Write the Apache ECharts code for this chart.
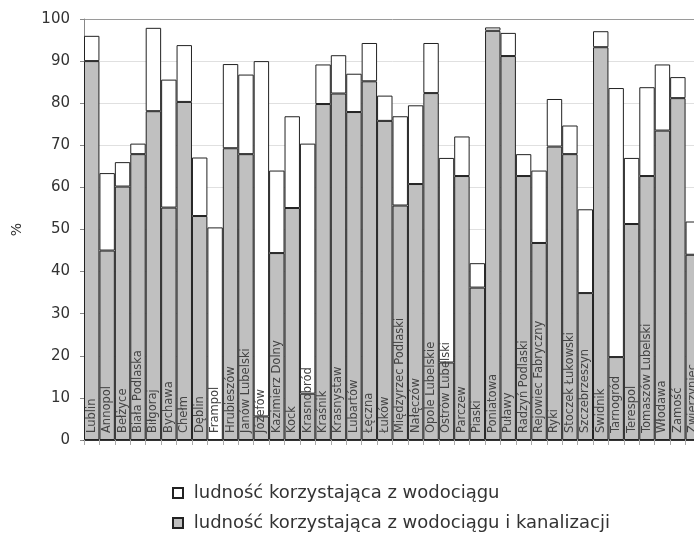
<!DOCTYPE html>
<html>
<head>
<meta charset="utf-8">
<script src="https://cdn.jsdelivr.net/npm/echarts@6/dist/echarts.min.js"></script>
<style>
    html, body { margin: 0; padding: 0; background: #fff; overflow: hidden; }
    #chart { width: 702px; height: 539px; }
</style>
</head>
<body>
<div id="chart"></div>
<script>
// miasta woj. lubelskiego
const categories = [
    'Lublin', 'Annopol', 'Bełżyce', 'Biała Podlaska', 'Biłgoraj', 'Bychawa', 'Chełm', 'Dęblin',
    'Frampol', 'Hrubieszów', 'Janów Lubelski', 'Józefów', 'Kazimierz Dolny', 'Kock', 'Krasnobród',
    'Kraśnik', 'Krasnystaw', 'Lubartów', 'Łęczna', 'Łuków', 'Międzyrzec Podlaski', 'Nałęczów',
    'Opole Lubelskie', 'Ostrów Lubelski', 'Parczew', 'Piaski', 'Poniatowa', 'Puławy',
    'Radzyń Podlaski', 'Rejowiec Fabryczny', 'Ryki', 'Stoczek Łukowski', 'Szczebrzeszyn',
    'Świdnik', 'Tarnogród', 'Terespol', 'Tomaszów Lubelski', 'Włodawa', 'Zamość', 'Zwierzyniec'
];
// % ludności korzystającej z wodociągu (razem)
const waterTotal = [
    96.0, 63.4, 66.0, 70.4, 97.9, 85.6, 93.8, 67.1, 50.5, 89.3,
    86.8, 90.0, 64.0, 76.9, 70.4, 89.2, 91.4, 87.0, 94.3, 81.8,
    76.9, 79.5, 94.3, 67.0, 72.1, 42.0, 98.0, 96.7, 67.9, 64.0,
    81.0, 74.7, 54.8, 97.1, 83.6, 67.0, 83.8, 89.2, 86.2, 51.9
];
// % ludności korzystającej z wodociągu i kanalizacji
const waterSewer = [
    90.0, 45.0, 60.2, 67.9, 78.1, 55.2, 80.3, 53.2, 0, 69.3,
    67.9, 5.6, 44.4, 55.1, 11.0, 79.8, 82.3, 77.9, 85.2, 75.8,
    55.7, 60.8, 82.4, 18.4, 62.7, 36.2, 97.2, 91.2, 62.7, 46.8,
    69.7, 67.9, 34.9, 93.3, 19.7, 51.3, 62.7, 73.5, 81.2, 44.0
];
const yTicks = [0, 10, 20, 30, 40, 50, 60, 70, 80, 90, 100];

const nameWater = 'ludność korzystająca z wodociągu';
const nameSewer = 'ludność korzystająca z wodociągu i kanalizacji';

// biała część = reszta do sumy
const waterOnly = waterTotal.map((v, i) => +(v - waterSewer[i]).toFixed(1));

const font = 'DejaVu Sans';
const chart = echarts.init(document.getElementById('chart'), null, { renderer: 'canvas' });

let gridColors = yTicks.map(t => t === 100 ? '#9a9a9a' : '#e0e0e0');

let option = {
    animation: false,
    backgroundColor: '#fff',
    grid: { left: 84, right: 1, top: 19, bottom: 99 },
    legend: {
        orient: 'vertical',
        left: 172,
        top: 484,
        height: 80,
        padding: 0,
        icon: 'rect',
        itemWidth: 10,
        itemHeight: 10,
        itemGap: 12,
        data: [nameWater, nameSewer],
        formatter: name => ' ' + name,
        textStyle: { fontFamily: font, fontSize: 18, color: '#333' }
    },
    xAxis: {
        type: 'category',
        data: categories,
        z: 10,
        axisLine: { lineStyle: { color: '#333', width: 1 } },
        axisTick: { show: true, interval: 0, length: 5, lineStyle: { color: '#aaa' } },
        axisLabel: {
            inside: true,
            rotate: 90,
            interval: 0,
            margin: 7,
            fontFamily: font,
            fontSize: 11.5,
            color: '#444'
        }
    },
    yAxis: {
        type: 'value',
        min: 0,
        max: 100,
        interval: 10,
        name: '%',
        nameLocation: 'middle',
        nameGap: 60,
        nameTextStyle: { fontFamily: font, fontSize: 14, color: '#333' },
        axisLine: { show: true, lineStyle: { color: '#888' } },
        axisTick: { show: true, length: 4, lineStyle: { color: '#888' } },
        axisLabel: { margin: 14, fontFamily: font, fontSize: 15, color: '#333' },
        splitLine: { show: true, lineStyle: { color: gridColors, width: 1 } }
    },
    series: [
        {
            name: nameSewer,
            type: 'bar',
            stack: 'w',
            barCategoryGap: 0,
            data: waterSewer,
            itemStyle: { color: '#c0c0c0', borderColor: '#222', borderWidth: 1 }
        },
        {
            name: nameWater,
            type: 'bar',
            stack: 'w',
            barCategoryGap: 0,
            data: waterOnly,
            itemStyle: { color: '#ffffff', borderColor: '#222', borderWidth: 1 }
        }
    ]
};
chart.setOption(option);
</script>
</body>
</html>
